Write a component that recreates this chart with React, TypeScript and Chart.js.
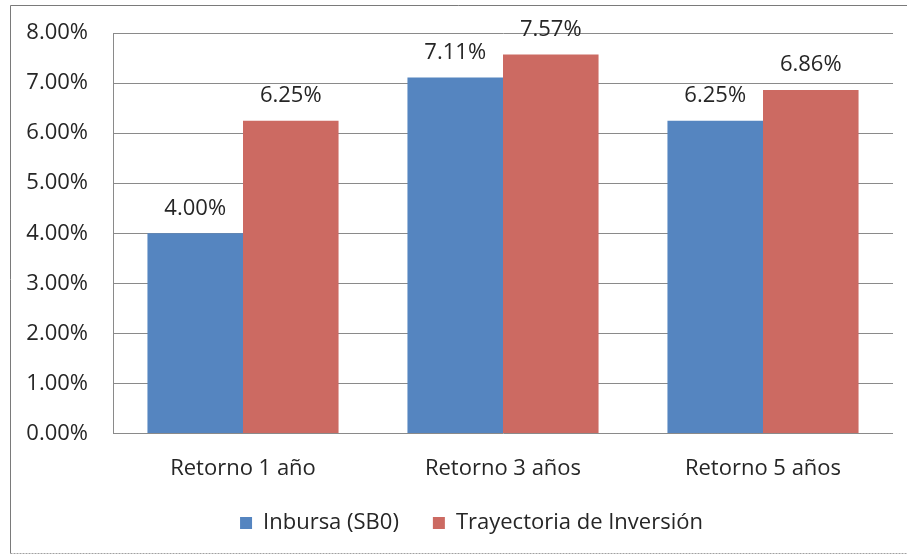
import React, { useEffect, useRef } from "react";
import { Chart, registerables } from "chart.js";

Chart.register(...registerables);

const categories = ["Retorno 1 año", "Retorno 3 años", "Retorno 5 años"];
const inbursa = [4.0, 7.11, 6.25];
const trayectoria = [6.25, 7.57, 6.86];
const seriesNames = ["Inbursa (SB0)", "Trayectoria de Inversión"];
const yTicksMax = 8;

const FONT = "'Open Sans', sans-serif";
const FS = 22;
const TEXT = "#262626";

export default function App() {
  const ref = useRef<HTMLCanvasElement>(null);
  useEffect(() => {
    const canvas = ref.current;
    if (!canvas) return;
    const labelPlugin = {
      id: "labels",
      afterLayout(chart: any) {
        const lg = chart.legend;
        if (lg) {
          lg.left += 20;
          lg.right += 20;
        }
      },
      beforeDraw(chart: any) {
        const ctx = chart.ctx;
        ctx.save();
        ctx.fillStyle = "#ffffff";
        ctx.fillRect(0, 0, chart.width, chart.height);
        ctx.strokeStyle = "#7a7a7a";
        ctx.lineWidth = 1;
        ctx.beginPath();
        ctx.moveTo(907, 5.5);
        ctx.lineTo(10.5, 5.5);
        ctx.lineTo(10.5, 553.5);
        ctx.stroke();
        ctx.strokeStyle = "#a0a0a0";
        ctx.setLineDash([2, 1]);
        ctx.beginPath();
        ctx.moveTo(10.5, 553.5);
        ctx.lineTo(907, 553.5);
        ctx.stroke();
        ctx.restore();
      },
      afterDatasetsDraw(chart: any) {
        const ctx = chart.ctx;
        ctx.save();
        ctx.font = `${FS}px ${FONT}`;
        ctx.fillStyle = TEXT;
        ctx.textAlign = "center";
        ctx.textBaseline = "middle";
        chart.data.datasets.forEach((ds: any, di: number) => {
          const meta = chart.getDatasetMeta(di);
          meta.data.forEach((el: any, i: number) => {
            const v = ds.data[i] as number;
            ctx.fillText(v.toFixed(2) + "%", el.x, el.y - 25);
          });
        });
        ctx.restore();
      },
    };
    const chart = new Chart(canvas, {
      type: "bar",
      data: {
        labels: categories,
        datasets: [
          { label: seriesNames[0], data: inbursa, backgroundColor: "#5585c0" },
          { label: seriesNames[1], data: trayectoria, backgroundColor: "#cc6a62" },
        ],
      },
      options: {
        responsive: false,
        animation: false,
        layout: { padding: { left: 10, top: 33, right: 14, bottom: 13 } },
        datasets: { bar: { categoryPercentage: 0.735, barPercentage: 1.0 } } as any,
        plugins: {
          legend: {
            position: "bottom",
            labels: {
              font: { family: FONT, size: FS },
              color: TEXT,
              boxWidth: 12,
              boxHeight: 12,
              padding: 34,
            },
          },
          tooltip: { enabled: false },
        },
        scales: {
          x: {
            grid: { display: false, drawTicks: false },
            border: { display: false },
            afterFit(scale: any) {
              scale.height = scale.height - 26;
            },
            ticks: { font: { family: FONT, size: FS }, color: TEXT, padding: 22 },
          },
          y: {
            min: 0,
            max: yTicksMax,
            afterFit(scale: any) {
              scale.width = 103;
            },
            grid: {
              color: "#8a8a8a",
              drawTicks: true,
              tickLength: 25,
              tickColor: "rgba(0,0,0,0)",
              lineWidth: 1,
            },
            border: { display: true, color: "#8a8a8a" },
            ticks: {
              stepSize: 1,
              padding: 0,
              font: { family: FONT, size: FS },
              color: TEXT,
              callback: (v: any) => Number(v).toFixed(2) + "%",
            },
          },
        },
      },
      plugins: [labelPlugin],
    });
    return () => chart.destroy();
  }, []);
  return (
    <div style={{ position: "absolute", left: 0, top: 0, width: 907, height: 557 }}>
      <canvas ref={ref} width={907} height={557} />
    </div>
  );
}
